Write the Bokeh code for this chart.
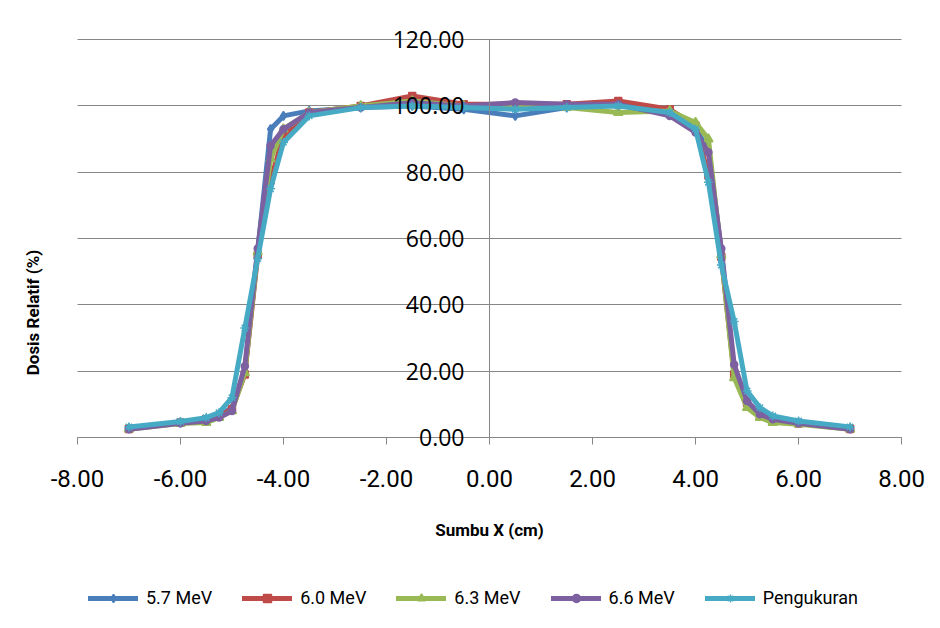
from bokeh.plotting import figure
from bokeh.models import (Range1d, LinearAxis, FixedTicker, Legend, LegendItem,
                          NumeralTickFormatter, ColumnDataSource)
from bokeh.embed import file_html
from bokeh.resources import INLINE

# ---- data ----
x_cm = [-7, -6, -5.5, -5.25, -5, -4.75, -4.5, -4.25, -4, -3.5, -2.5, -1.5, -0.5,
        0.5, 1.5, 2.5, 3.5, 4, 4.25, 4.5, 4.75, 5, 5.25, 5.5, 6, 7]

dose_57 = [2.8, 4.5, 5.5, 6.5, 9.0, 20.0, 56.0, 93.0, 97.0, 98.5, 99.5, 100.0, 99.0,
           97.0, 99.5, 100.5, 98.5, 93.0, 87.0, 56.0, 20.0, 10.0, 7.0, 5.5, 4.5, 2.8]
dose_60 = [2.6, 4.5, 5.5, 6.5, 8.5, 19.0, 55.0, 77.5, 91.0, 98.0, 100.0, 103.0, 100.5,
           100.5, 100.5, 101.5, 99.0, 94.0, 79.0, 54.5, 19.0, 10.5, 6.5, 5.0, 4.2, 2.6]
dose_63 = [2.5, 4.2, 4.5, 6.0, 8.0, 19.5, 56.0, 84.0, 93.0, 98.0, 100.0, 101.5, 100.0,
           100.0, 99.5, 98.0, 98.5, 95.0, 90.0, 55.0, 18.0, 9.0, 6.0, 4.5, 4.0, 2.5]
dose_66 = [2.5, 4.3, 5.0, 6.0, 8.0, 21.5, 57.0, 88.0, 93.0, 98.0, 99.5, 101.0, 100.0,
           101.0, 100.5, 100.5, 97.0, 92.0, 86.0, 57.0, 22.0, 11.0, 7.0, 5.5, 4.3, 2.5]
dose_meas = [3.2, 4.8, 6.0, 7.5, 12.0, 33.0, 54.0, 75.0, 89.0, 97.0, 99.5, 100.0, 99.5,
             99.0, 99.5, 100.0, 98.0, 93.0, 77.0, 52.0, 35.0, 14.0, 9.0, 6.5, 5.0, 3.2]

series_names = ["5.7 MeV", "6.0 MeV", "6.3 MeV", "6.6 MeV", "Pengukuran"]
series_values = [dose_57, dose_60, dose_63, dose_66, dose_meas]
series_colors = ["#4A7EBB", "#BE4B48", "#98B954", "#7D60A0", "#46AAC5"]
series_markers = ["diamond", "square", "triangle", "circle", "asterisk"]
marker_sizes = [9, 7, 9, 7, 9]

x_ticks = [-8, -6, -4, -2, 0, 2, 4, 6, 8]
y_ticks = [0, 20, 40, 60, 80, 100, 120]
X_MIN, X_MAX = -8, 8
Y_MIN, Y_MAX = 0, 120

GRAY = "#868686"
FONT = "Roboto"

# The frame covers the whole picture so that the axes (drawn at x=0 and y=0),
# their labels and the legend all live inside it.
p = figure(width=936, height=624, output_backend="svg", toolbar_location=None,
           x_range=Range1d(-8.6, 8.6), y_range=Range1d(-56.4, 131.8),
           min_border_left=46, min_border_right=4, min_border_top=0,
           min_border_bottom=0)
p.outline_line_color = None
p.border_fill_color = "white"

# x axis, crossing at y = 0
xa = p.xaxis[0]
xa.fixed_location = 0
xa.bounds = (X_MIN, X_MAX)
xa.ticker = FixedTicker(ticks=x_ticks)
xa.formatter = NumeralTickFormatter(format="0.00")
xa.axis_line_color = GRAY
xa.major_tick_line_color = GRAY
xa.major_tick_out = 7
xa.major_tick_in = 0
xa.minor_tick_line_color = None
xa.major_label_standoff = 26
xa.major_label_text_font = FONT
xa.major_label_text_font_size = "24px"
xa.major_label_text_color = "black"
xa.axis_label = "Sumbu X (cm)"
xa.axis_label_text_font = FONT
xa.axis_label_text_font_style = "bold"
xa.axis_label_text_font_size = "17px"
xa.axis_label_text_color = "black"
xa.axis_label_standoff = 29

# y axis, crossing at x = 0
ya = p.yaxis[0]
ya.fixed_location = 0
ya.bounds = (Y_MIN, Y_MAX)
ya.ticker = FixedTicker(ticks=y_ticks)
ya.formatter = NumeralTickFormatter(format="0.00")
ya.axis_line_color = GRAY
ya.major_tick_out = 0
ya.major_tick_in = 0
ya.minor_tick_line_color = None
ya.major_label_standoff = 25
ya.major_label_text_font = "Open Sans"
ya.major_label_text_font_size = "23px"
ya.major_label_text_color = "black"

# y axis title on the left edge
title_axis = LinearAxis(ticker=FixedTicker(ticks=[]), axis_line_color=None,
                        major_tick_line_color=None, minor_tick_line_color=None,
                        major_label_text_font_size="1px", major_label_standoff=0,
                        major_tick_out=0, major_tick_in=0, bounds=(-11, 120),
                        axis_label="Dosis Relatif (%)",
                        axis_label_text_font=FONT,
                        axis_label_text_font_style="bold",
                        axis_label_text_font_size="17px",
                        axis_label_text_color="black",
                        axis_label_standoff=4)
p.add_layout(title_axis, "left")

p.xgrid.grid_line_color = None
yg = p.ygrid[0]
yg.ticker = FixedTicker(ticks=y_ticks)
if "cross_bounds" in yg.properties():
    yg.cross_bounds = (X_MIN, X_MAX)
    yg.grid_line_color = GRAY
    yg.grid_line_width = 1
else:
    yg.grid_line_color = None
    p.segment(x0=[X_MIN] * len(y_ticks), x1=[X_MAX] * len(y_ticks),
              y0=y_ticks, y1=y_ticks, line_color=GRAY, line_width=1,
              level="underlay")

items = []
for name, vals, col, mk, ms in zip(series_names, series_values, series_colors,
                                   series_markers, marker_sizes):
    src = ColumnDataSource(data=dict(x=x_cm, y=vals))
    r_line = p.line("x", "y", source=src, line_color=col, line_width=5,
                    line_join="round", line_cap="round")
    r_mark = p.scatter("x", "y", source=src, marker=mk, size=ms,
                       fill_color=col, line_color=col, line_width=1.5)
    items.append(LegendItem(label=name, renderers=[r_line, r_mark]))

legend = Legend(items=items, orientation="horizontal", location=(42, 16),
                label_text_font=FONT, label_text_font_size="18px",
                label_text_color="black",
                glyph_width=50, glyph_height=20, spacing=30, label_standoff=8,
                border_line_color=None, background_fill_alpha=0,
                padding=0, margin=0)
p.add_layout(legend)

open("out.html", "w").write(file_html(p, INLINE))
